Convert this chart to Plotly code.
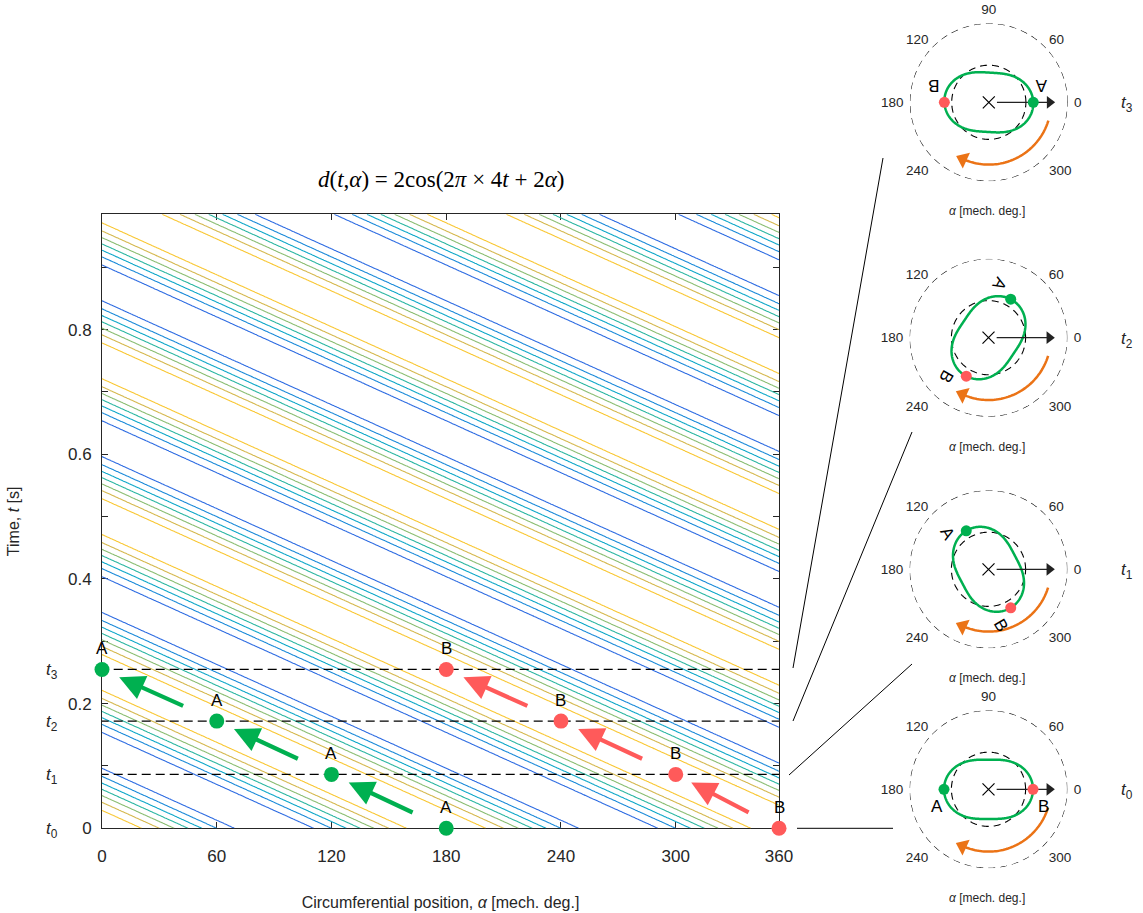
import numpy as np
import plotly.graph_objects as go

W, H = 1143, 913

# ---------------- data ----------------
ALPHA_GRID = np.arange(0, 355, 1.0)            # circumferential position grid [mech. deg]
T_GRID = np.arange(0, 0.9851, 0.0025)          # time grid [s]
LEVELS = [-1.5, -1.0, -0.5, 0.0, 0.5, 1.0, 1.5]
LEVEL_COLORS = ['#2E6CE2', '#1A8AD9', '#0DA7C9', '#2BB6A2', '#8ABD72', '#D5B84E', '#F9C733']

T_MARKS = [0.0, 0.0865, 0.172, 0.2548]          # t0..t3
T_SUBS = ['0', '1', '2', '3']
A_ALPHA = [180, 120, 60, 0]
B_ALPHA = [360, 300, 240, 180]
X_MAX = 354
X_TICKS = [0, 60, 120, 180, 240, 300, 354]
X_TICKTEXT = ['0', '60', '120', '180', '240', '300', '360']
Y_TICKS = [0, 0.2, 0.4, 0.6, 0.8]
Y_TICKTEXT = ['0', '0.2', '0.4', '0.6', '0.8']
Y_MINOR = [0.1, 0.3, 0.5, 0.7, 0.9]
POLAR_TICKS = [0, 45, 90, 135, 180, 225, 315]
POLAR_TICKTEXT = ['0', '60', '90', '120', '180', '240', '300']
SHOW_90 = [True, False, False, True]

GREEN = '#00B050'
RED = '#FF5A5A'
ORANGE = '#EB7316'
TXT = '#262626'
SANS = 'Liberation Sans, Arial, sans-serif'
SERIF = 'Liberation Serif, Times New Roman, serif'


def d(t, a_deg):
    return 2 * np.cos(2 * np.pi * 4 * t + 2 * np.radians(a_deg))


Z = d(T_GRID[:, None], ALPHA_GRID[None, :])

# ---------------- layout geometry ----------------
PX0, PX1 = 102, 779
PY0, PY1 = 214.3, 828.3
INSET_CX = [988.5, 988.5, 988.5, 988.8]
INSET_CY = [789.3, 569.3, 337.7, 102.3]
R_PX = 79
RMAX = 2.13
DEFORM = 0.1
CENTER = dict(xanchor='center', yanchor='middle')

fig = go.Figure()

fig.add_trace(go.Contour(
    x=ALPHA_GRID, y=T_GRID, z=Z, autocontour=False,
    contours=dict(start=LEVELS[0], end=LEVELS[-1], size=LEVELS[1] - LEVELS[0], coloring='lines'),
    colorscale=[[i / (len(LEVEL_COLORS) - 1), c] for i, c in enumerate(LEVEL_COLORS)],
    line=dict(width=1.1), showscale=False, hoverinfo='skip'))

# dashed time marks (drawn as traces so the dots sit on top)
for k in range(1, 4):
    fig.add_trace(go.Scatter(x=[-1.2, X_MAX], y=[T_MARKS[k], T_MARKS[k]], mode='lines', cliponaxis=False,
                             line=dict(color='black', width=1.2, dash='9px,5px'), hoverinfo='skip'))

xa = [min(a, X_MAX) for a in A_ALPHA]
xb = [min(b, X_MAX) for b in B_ALPHA]
fig.add_trace(go.Scatter(x=xa, y=T_MARKS, mode='markers', cliponaxis=False,
                         marker=dict(color=GREEN, size=15, line=dict(width=0)), hoverinfo='skip'))
fig.add_trace(go.Scatter(x=xb, y=T_MARKS, mode='markers', cliponaxis=False,
                         marker=dict(color=RED, size=15, line=dict(width=0)), hoverinfo='skip'))

ann = []
for xs, lab in ((xa, 'A'), (xb, 'B')):
    for x, t in zip(xs, T_MARKS):
        ann.append(dict(x=x, y=t, xref='x', yref='y', text=lab, showarrow=False, yshift=21,
                        font=dict(family=SANS, size=17, color='black'), **CENTER))

# motion arrows between consecutive points
F0, F1 = 0.28, 0.85
for xs, col in ((xa, GREEN), (xb, RED)):
    for k in range(3):
        x0, y0, x1, y1 = xs[k], T_MARKS[k], xs[k + 1], T_MARKS[k + 1]
        ann.append(dict(x=x0 + F1 * (x1 - x0), y=y0 + F1 * (y1 - y0),
                        ax=x0 + F0 * (x1 - x0), ay=y0 + F0 * (y1 - y0),
                        xref='x', yref='y', axref='x', ayref='y', text='', showarrow=True,
                        arrowhead=2, arrowsize=1.2, arrowwidth=4.2, arrowcolor=col))

# t labels on left axis
for k in range(4):
    ann.append(dict(x=52 / W, y=T_MARKS[k], xref='paper', yref='y', showarrow=False, yshift=-2,
                    text='<i>t</i><sub>%s</sub>' % T_SUBS[k], font=dict(family=SANS, size=17, color=TXT),
                    **CENTER))

# formula title
ann.append(dict(x=441 / W, y=1 - 180 / H, xref='paper', yref='paper', showarrow=False,
                text='<i>d</i>(<i>t</i>,<i>α</i>) = 2cos(2<i>π</i> × 4<i>t</i> + 2<i>α</i>)',
                font=dict(family=SERIF, size=23, color='black'), **CENTER))

# ---------------- polar insets ----------------
theta_full = np.arange(0, 361, 1.0)
ARC_THETA = np.linspace(-17, -112, 60)
ARC_R = 1.68
for k in range(4):
    name = 'polar' if k == 0 else 'polar%d' % (k + 1)
    cx, cy, t = INSET_CX[k], INSET_CY[k], T_MARKS[k]
    tv = [v for v, s in zip(POLAR_TICKS, POLAR_TICKTEXT) if SHOW_90[k] or s != '90']
    tt = [s for s in POLAR_TICKTEXT if SHOW_90[k] or s != '90']
    fig.update_layout(**{name: dict(
        domain=dict(x=[(cx - R_PX) / W, (cx + R_PX) / W], y=[1 - (cy + R_PX) / H, 1 - (cy - R_PX) / H]),
        bgcolor='rgba(0,0,0,0)',
        radialaxis=dict(visible=False, range=[0, RMAX]),
        angularaxis=dict(showline=False, showgrid=False, ticks='outside', ticklen=3,
                         tickcolor='rgba(0,0,0,0)', rotation=0, direction='counterclockwise',
                         tickmode='array', tickvals=tv, ticktext=tt,
                         tickfont=dict(family=SANS, size=13.5, color=TXT)))})
    common = dict(subplot=name, hoverinfo='skip', cliponaxis=False)
    fig.add_trace(go.Scatterpolar(r=[RMAX] * len(theta_full), theta=theta_full, mode='lines',
                                  line=dict(color='black', width=1.1, dash='7px,5px'), **common))
    fig.add_trace(go.Scatterpolar(r=[1.0] * len(theta_full), theta=theta_full, mode='lines',
                                  line=dict(color='black', width=1.1, dash='7px,5px'), **common))
    fig.add_trace(go.Scatterpolar(r=1 + DEFORM * d(t, theta_full), theta=theta_full, mode='lines',
                                  line=dict(color=GREEN, width=2.5), **common))
    fig.add_trace(go.Scatterpolar(r=[0], theta=[0], mode='markers',
                                  marker=dict(symbol='x-thin', size=12, line=dict(width=1.2, color='black')), **common))
    fig.add_trace(go.Scatterpolar(r=[0.22, 1.6], theta=[0, 0], mode='lines',
                                  line=dict(color='#222222', width=1.2), **common))
    fig.add_trace(go.Scatterpolar(r=[1.64], theta=[0], mode='markers',
                                  marker=dict(symbol='triangle-right', size=11, color='#222222',
                                              line=dict(width=0)), **common))
    fig.add_trace(go.Scatterpolar(r=[ARC_R] * len(ARC_THETA), theta=ARC_THETA, mode='lines',
                                  line=dict(color=ORANGE, width=2.5), **common))
    th_end = ARC_THETA[-1] - 2.5
    fig.add_trace(go.Scatterpolar(r=[ARC_R], theta=[th_end], mode='markers',
                                  marker=dict(symbol='triangle-up', size=15, color=ORANGE, angle=180 - th_end,
                                              line=dict(width=0)),
                                  **common))
    a, b = A_ALPHA[k], B_ALPHA[k]
    fig.add_trace(go.Scatterpolar(r=[1 + DEFORM * d(t, a)], theta=[a], mode='markers',
                                  marker=dict(color=GREEN, size=11, line=dict(width=0)), **common))
    fig.add_trace(go.Scatterpolar(r=[1 + DEFORM * d(t, b)], theta=[b], mode='markers',
                                  marker=dict(color=RED, size=11, line=dict(width=0)), **common))
    # rotated A / B labels
    for lab, ang, off, rr in (('A', a, 18.6, 54.5), ('B', b, -17.6, 57.7)):
        th = np.radians(ang + off)
        ann.append(dict(x=(cx + rr * np.cos(th)) / W, y=1 - (cy - rr * np.sin(th)) / H,
                        xref='paper', yref='paper', showarrow=False, text=lab,
                        textangle=(180 - a) % 360,
                        font=dict(family=SANS, size=17, color='black'), **CENTER))
    ann.append(dict(x=(cx - 2) / W, y=1 - (cy + 109) / H, xref='paper', yref='paper', showarrow=False,
                    text='<i>α</i> [mech. deg.]', font=dict(family=SANS, size=12, color=TXT), **CENTER))
    ann.append(dict(x=1127 / W, y=1 - (cy + 2) / H, xref='paper', yref='paper', showarrow=False,
                    text='<i>t</i><sub>%s</sub>' % T_SUBS[k], font=dict(family=SANS, size=17, color=TXT),
                    **CENTER))

# connector lines from main axes to insets
CONNECT = [((797, 828.3), (893, 828.3)), ((789, 775), (912, 664)),
           ((793, 721), (912, 432)), ((793, 668), (883, 158))]
for (x0, y0), (x1, y1) in CONNECT:
    fig.add_shape(type='line', xref='paper', yref='paper', x0=x0 / W, y0=1 - y0 / H, x1=x1 / W, y1=1 - y1 / H,
                  line=dict(color='black', width=1))

fig.update_layout(
    width=W, height=H, template='none', showlegend=False,
    margin=dict(l=0, r=0, t=0, b=0), paper_bgcolor='white', plot_bgcolor='white',
    annotations=ann,
    xaxis=dict(domain=[PX0 / W, PX1 / W], range=[0, X_MAX], tickmode='array', tickvals=X_TICKS,
               ticktext=X_TICKTEXT, ticks='inside', ticklen=6, tickcolor=TXT, showgrid=False, zeroline=False,
               showline=True, linecolor=TXT, linewidth=1, mirror='ticks', ticklabelstandoff=12,
               layer='below traces',
               tickfont=dict(family=SANS, size=17, color=TXT),
               title=dict(text='Circumferential position, <i>α</i> [mech. deg.]', standoff=32,
                          font=dict(family=SANS, size=16, color=TXT))),
    yaxis=dict(domain=[1 - PY1 / H, 1 - PY0 / H], range=[0, 0.985], tickmode='array', tickvals=Y_TICKS,
               ticktext=Y_TICKTEXT, ticks='inside', ticklen=6, tickcolor=TXT, showgrid=False, zeroline=False,
               showline=True, linecolor=TXT, linewidth=1, mirror='ticks', ticklabelstandoff=6,
               layer='below traces',
               minor=dict(tickvals=Y_MINOR, ticks='inside', ticklen=6, tickcolor=TXT, showgrid=False),
               tickfont=dict(family=SANS, size=17, color=TXT),
               title=dict(text='Time, <i>t</i> [s]', standoff=44, font=dict(family=SANS, size=16, color=TXT))),
)

fig.write_html('out.html', config={'displayModeBar': False},
               post_script="document.body.style.margin='0px';")
